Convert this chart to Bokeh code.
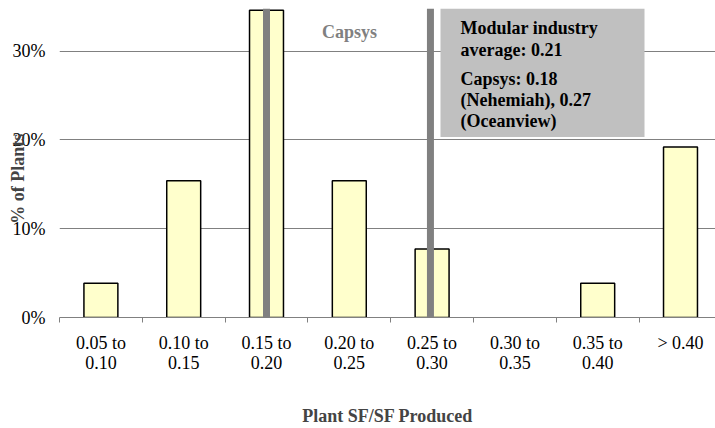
from bokeh.plotting import figure
from bokeh.models import Range1d, FixedTicker, ColumnDataSource
from bokeh.core.properties import value
from bokeh.embed import file_html
from bokeh.resources import INLINE

# ---- data ----
categories = ["0.05 to\n0.10", "0.10 to\n0.15", "0.15 to\n0.20", "0.20 to\n0.25",
              "0.25 to\n0.30", "0.30 to\n0.35", "0.35 to\n0.40", "> 0.40"]
pct_plants = [3.85, 15.4, 34.6, 15.4, 7.7, 0.0, 3.85, 19.2]
y_ticks = [0, 10, 20, 30]
y_tick_labels = ["0%", "10%", "20%", "30%"]
capsys_line_pos = [2.5, 4.48]          # Capsys markers on the category axis
note_lines = ["Modular industry", "average: 0.21", "Capsys: 0.18",
              "(Nehemiah), 0.27", "(Oceanview)"]

# ---- layout helpers (pixel -> data) ----
FRAME_L, FRAME_B, CAT_W, PX_PCT = 59.0, 318.0, 82.8, 8.91
def xd(px):
    return (px - FRAME_L) / CAT_W
def yd(px):
    return (FRAME_B - px) / PX_PCT

FONT = "Liberation Serif"
GREY = "#808080"
FRAME_T = 8
X_END = xd(715)
Y_END = yd(FRAME_T)

p = figure(width=715, height=428, output_backend="svg", toolbar_location=None,
           x_range=Range1d(0, X_END), y_range=Range1d(0, Y_END),
           min_border_left=int(FRAME_L), min_border_right=0, min_border_top=FRAME_T,
           min_border_bottom=428 - int(FRAME_B))
p.outline_line_color = None
p.background_fill_color = "white"
p.xgrid.grid_line_color = None
p.ygrid.ticker = FixedTicker(ticks=y_ticks)
p.ygrid.grid_line_color = GREY
p.ygrid.grid_line_width = 1

centers = [i + 0.5 for i in range(len(categories))]
outline = ["black" if v > 0 else None for v in pct_plants]
src = ColumnDataSource(dict(x=centers, top=pct_plants, lc=outline))
p.vbar(x="x", top="top", width=0.41, bottom=0, source=src,
       fill_color="#FFFFCC", line_color="lc", line_width=1.5)

# Capsys marker lines
p.segment(x0=capsys_line_pos, y0=[0] * len(capsys_line_pos),
          x1=capsys_line_pos, y1=[Y_END] * len(capsys_line_pos),
          line_color=GREY, line_width=7)

# note box
p.quad(left=[xd(440)], right=[xd(644)], top=[Y_END], bottom=[yd(137)],
       fill_color="#C0C0C0", line_color=None)
note_y = [yd(28), yd(50), yd(79), yd(100), yd(121)]
p.text(x=[xd(460)] * len(note_lines), y=note_y, text=note_lines,
       text_font=value(FONT), text_font_style="bold", text_font_size="18px",
       text_color="black", text_align="left", text_baseline="middle")

p.text(x=[xd(349)], y=[yd(32)], text=["Capsys"], text_font=value(FONT),
       text_font_style="bold", text_font_size="18px", text_color=GREY,
       text_align="center", text_baseline="middle")

# axes
xa = p.xaxis[0]
xa.ticker = FixedTicker(ticks=centers, minor_ticks=list(range(len(categories) + 1)))
xa.major_label_overrides = {c: lab for c, lab in zip(centers, categories)}
xa.axis_line_color = GREY
xa.major_tick_line_color = None
xa.major_tick_out = 5
xa.minor_tick_line_color = GREY
xa.minor_tick_out = 5
xa.minor_tick_in = 0
xa.major_label_standoff = 10
xa.major_label_text_font = FONT
xa.major_label_text_font_size = "18px"
xa.major_label_text_color = "black"
xa.major_label_text_line_height = 1.0
xa.axis_label = "Plant SF/SF Produced"
xa.axis_label_text_font = FONT
xa.axis_label_text_font_style = "bold"
xa.axis_label_text_font_size = "18px"
xa.axis_label_text_line_height = 1.0
xa.axis_label_standoff = 30

ya = p.yaxis[0]
ya.ticker = FixedTicker(ticks=y_ticks)
ya.major_label_overrides = {t: lab for t, lab in zip(y_ticks, y_tick_labels)}
ya.axis_line_color = None
ya.major_tick_line_color = None
ya.minor_tick_line_color = None
ya.major_tick_out = 0
ya.major_label_standoff = 14
ya.major_label_text_font = FONT
ya.major_label_text_font_size = "18px"
ya.major_label_text_color = "black"
ya.axis_label = "% of Plants" + "\u00a0" * 7
ya.axis_label_text_font = FONT
ya.axis_label_text_font_style = "bold"
ya.axis_label_text_font_size = "18px"
ya.axis_label_standoff = -18

open("out.html", "w").write(file_html(p, INLINE))
